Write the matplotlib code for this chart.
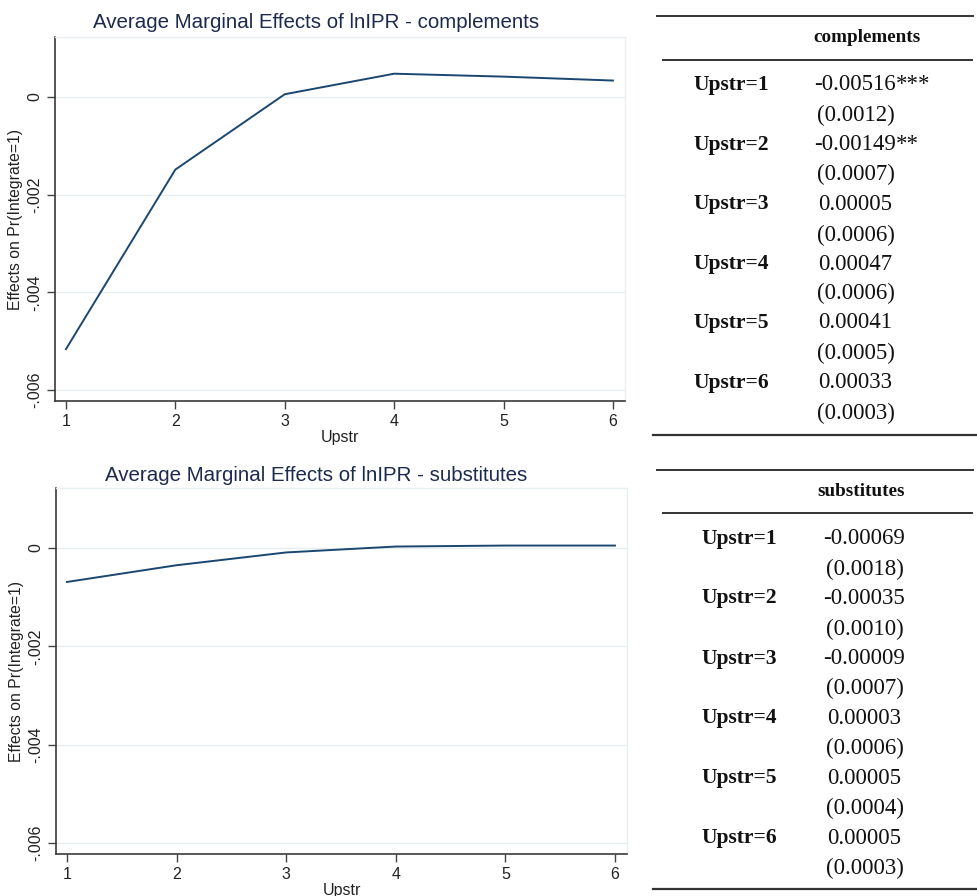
import matplotlib
matplotlib.use("Agg")
import matplotlib.pyplot as plt

# ---- data ----
upstr = [1, 2, 3, 4, 5, 6]
comp_me = [-0.00516, -0.00149, 0.00005, 0.00047, 0.00041, 0.00033]
comp_se = [0.0012, 0.0007, 0.0006, 0.0006, 0.0005, 0.0003]
comp_stars = ["***", "**", "", "", "", ""]
subs_me = [-0.00069, -0.00035, -0.00009, 0.00003, 0.00005, 0.00005]
subs_se = [0.0018, 0.0010, 0.0007, 0.0006, 0.0004, 0.0003]
subs_stars = ["", "", "", "", "", ""]
yticks = [0, -0.002, -0.004, -0.006]
ytick_labels = ["0", "-.002", "-.004", "-.006"]
titles = ["Average Marginal Effects of lnIPR - complements",
          "Average Marginal Effects of lnIPR - substitutes"]
table_headers = ["complements", "substitutes"]
xlabel = "Upstr"
ylabel = "Effects on Pr(Integrate=1)"

W, H = 978, 896
fig = plt.figure(figsize=(W / 100, H / 100), dpi=100)
fig.patch.set_facecolor("white")

SANS = ["Liberation Sans", "DejaVu Sans"]
SERIF = ["Liberation Serif", "DejaVu Serif"]
LINE_C = "#1a476f"
TITLE_C = "#1c2a4e"
GRID_C = "#e6eef0"


def px_axes(l, t, r, b):
    return fig.add_axes([l / W, 1 - b / H, (r - l) / W, (b - t) / H])


def make_plot(box, vals, title, title_y):
    ax = px_axes(*box)
    ax.plot(upstr, vals, color=LINE_C, lw=1.4)
    ax.set_xlim(0.9, 6.11)
    ax.set_ylim(-0.00622, 0.00122)
    ax.set_xticks(upstr)
    ax.set_xticklabels([str(u) for u in upstr], family=SANS, fontsize=11.5, color="#222222")
    ax.set_yticks(yticks)
    ax.set_yticklabels(ytick_labels, family=SANS, fontsize=11.5, color="#222222",
                       rotation=90, va="center")
    ax.tick_params(axis="both", direction="out", length=6, width=1.0, color="#444444")
    ax.tick_params(axis="x", pad=3)
    ax.tick_params(axis="y", pad=3)
    ax.grid(axis="y", color=GRID_C, lw=1.0)
    ax.set_axisbelow(True)
    for s in ["top", "right"]:
        ax.spines[s].set_color("#e8eff1")
        ax.spines[s].set_linewidth(1.0)
    for s in ["left", "bottom"]:
        ax.spines[s].set_color("#3a3a3a")
        ax.spines[s].set_linewidth(1.2)
    ax.set_xlabel(xlabel, family=SANS, fontsize=11.5, color="#222222", labelpad=1)
    ax.set_ylabel(ylabel, family=SANS, fontsize=11.3, color="#222222")
    ax.yaxis.set_label_coords(-0.056, 0.5)
    fig.text(316 / W, 1 - title_y / H, title, family=SANS, fontsize=14.8,
             color=TITLE_C, ha="center", va="center")
    return ax


make_plot((55, 37, 625, 401), comp_me, titles[0], 22)
make_plot((56, 488, 627, 854), subs_me, titles[1], 475)

# ---- tables drawn on an overlay in pixel coordinates ----
ov = fig.add_axes([0, 0, 1, 1])
ov.set_xlim(0, W)
ov.set_ylim(H, 0)
ov.axis("off")


def table(top_line, head_y, head_x, mid_line, bot_line, label_x, val_x,
          row_y, par_y, me, se, stars, header):
    ov.plot([657, 973], [top_line, top_line], color="#333333", lw=1.4)
    ov.plot([663, 972], [mid_line, mid_line], color="#333333", lw=1.4)
    ov.plot([653, 978], [bot_line, bot_line], color="#333333", lw=1.6)
    ov.text(head_x, head_y, header, family=SERIF, fontweight="bold", fontsize=13.8,
            ha="center", va="center", color="#111111")
    for i in range(len(me)):
        ov.text(label_x, row_y[i], f"Upstr={upstr[i]}", family=SERIF, fontweight="bold",
                fontsize=15.5, ha="left", va="center", color="#111111")
        t = ov.text(val_x, row_y[i], f"{me[i]:.5f}", family=SERIF, fontsize=16.5,
                    ha="center", va="center", color="#111111")
        if stars[i]:
            ov.annotate(stars[i], xy=(1, 0), xycoords=t, ha="left", va="bottom",
                        family=SERIF, fontsize=16.5, color="#111111")
        ov.text(val_x + 1, par_y[i], f"({se[i]:.4f})", family=SERIF, fontsize=16.5,
                ha="center", va="center", color="#111111")


table(16, 38, 867, 60, 435, 693, 855,
      [85, 145, 204, 264, 323, 383], [115, 174, 235, 293, 353, 413],
      comp_me, comp_se, comp_stars, table_headers[0])
table(470, 492, 861, 513, 889, 701, 864,
      [539, 598, 659, 718, 778, 838], [569, 629, 688, 748, 808, 868],
      subs_me, subs_se, subs_stars, table_headers[1])

fig.savefig("out.png", dpi=100, facecolor="white")
